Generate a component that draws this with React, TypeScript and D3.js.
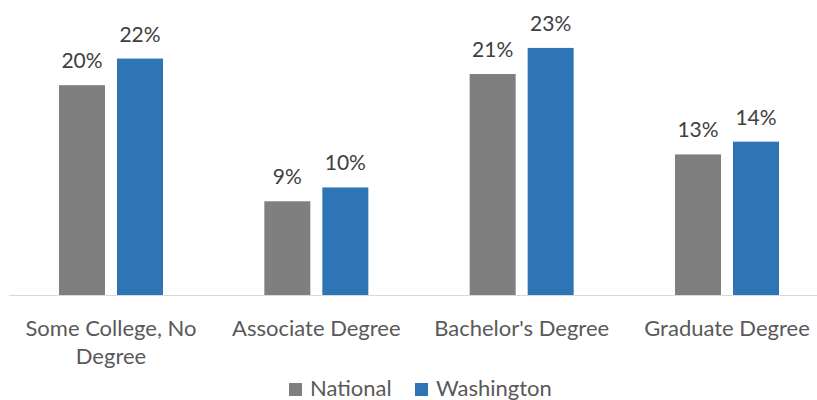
import React from "react";
import * as d3 from "d3";

const categories = ["Some College, No Degree", "Associate Degree", "Bachelor's Degree", "Graduate Degree"];
const categoryLines = [["Some College, No", "Degree"], ["Associate Degree"], ["Bachelor's Degree"], ["Graduate Degree"]];
const seriesNames = ["National", "Washington"];
const nationalValues = [0.197, 0.088, 0.2075, 0.132];
const washingtonValues = [0.222, 0.101, 0.232, 0.144];
const colors = ["#7f7f7f", "#2e75b6"];

const W = 817;
const H = 400;
const FONT = "Lato, 'Open Sans', sans-serif";

export default function App() {
  const x0 = d3.scaleBand<string>().domain(categories).range([8.33, 829.67]).paddingInner(0).paddingOuter(0);
  const y = d3.scaleLinear().domain([0, 0.25]).range([295, 28.75]);
  const barW = 46;
  const offsets = [-52, 6];
  const series = [nationalValues, washingtonValues];
  const fmt = d3.format(".0%");

  return (
    <svg width={W} height={H} style={{ position: "absolute", left: 0, top: 0, background: "#fff" }} fontFamily={FONT}>
      <rect x={0} y={0} width={W} height={H} fill="#fff" />
      {series.map((vals, si) =>
        vals.map((v, i) => {
          const cx = (x0(categories[i]) as number) + x0.bandwidth() / 2;
          const bx = cx + offsets[si];
          return (
            <g key={`${si}-${i}`}>
              <rect x={bx} y={y(v)} width={barW} height={y(0) - y(v)} fill={colors[si]} />
              <text x={bx + barW / 2} y={y(v) - 17} textAnchor="middle" fontSize={21} fill="#404040">
                {fmt(v)}
              </text>
            </g>
          );
        })
      )}
      <line x1={9} x2={W} y1={295.5} y2={295.5} stroke="#d9d9d9" strokeWidth={1.2} />
      {categories.map((c, i) => {
        const cx = (x0(c) as number) + x0.bandwidth() / 2;
        return (
          <text key={c} x={cx} textAnchor="middle" fontSize={22} fill="#595959">
            {categoryLines[i].map((ln, j) => (
              <tspan key={j} x={cx} y={336 + j * 28}>
                {ln}
              </tspan>
            ))}
          </text>
        );
      })}
      <g>
        <rect x={289} y={383} width={13} height={13} fill={colors[0]} />
        <text x={310} y={396} fontSize={22} fill="#595959">{seriesNames[0]}</text>
        <rect x={415} y={383} width={13} height={13} fill={colors[1]} />
        <text x={436} y={396} fontSize={22} fill="#595959">{seriesNames[1]}</text>
      </g>
    </svg>
  );
}
